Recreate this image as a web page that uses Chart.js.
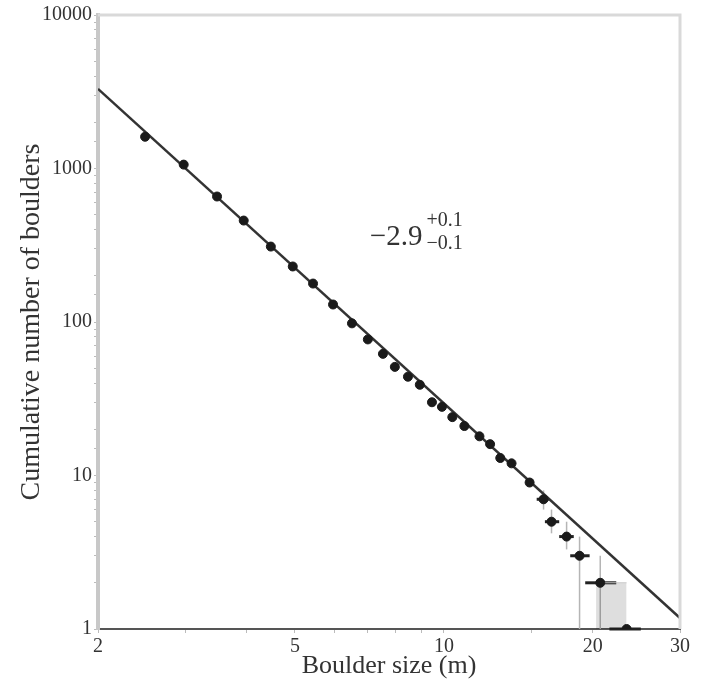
<!DOCTYPE html>
<html>
<head>
<meta charset="utf-8">
<script src="https://cdn.jsdelivr.net/npm/chart.js@4.4.1/dist/chart.umd.min.js"></script>
<style>
  html, body { margin: 0; padding: 0; background: #fff; }
  #wrap { width: 701px; height: 684px; }
</style>
</head>
<body>
<div id="wrap"><canvas id="sizeChart" width="701" height="684"></canvas></div>
<script>
// boulder size (m) vs cumulative number of boulders
const boulderSize = [2.49, 2.98, 3.48, 3.94, 4.47, 4.95, 5.44, 5.97, 6.52, 7.02, 7.53, 7.96, 8.46, 8.94, 9.46, 9.91, 10.4, 11.0, 11.8, 12.4, 13.0, 13.7, 14.9, 15.9, 16.5, 17.7, 18.8, 20.7, 23.4]
const cumulativeCount = [1610, 1060, 657, 458, 310, 230, 178, 130, 98, 77, 62, 51, 44, 39, 30, 28, 24, 21, 18, 16, 13, 12, 9, 7, 5, 4, 3, 2, 1]

// error bars, only for the last points of the series
const tailStart = 23
const sizeLow  = [15.4, 16.0, 17.1, 18.0, 19.3, 21.6]
const sizeHigh = [16.3, 17.1, 18.3, 19.7, 22.3, 25.0]
const countLow  = [6, 4.2, 3.3, 1.0, 1.0, 1]
const countHigh = [8, 6, 5, 4, 3, 1]

// shaded band under the last two points
const bandSize = [20.3, 23.4]
const bandCount = [2, 2]

// power-law fit, slope -2.9
const fitSize = [2, 30]
const fitCount = [3300, 1.18]

const xLabels = [2, 5, 10, 20, 30]
const yLabels = [1, 10, 100, 1000, 10000]

const serif = "'Liberation Serif', 'DejaVu Serif', serif"

function toPoints(xs, ys) {
  return xs.map((x, i) => ({ x: x, y: ys[i] }))
}

const errorBars = {
  id: 'errorBars',
  beforeDatasetsDraw(chart) {
    const ctx = chart.ctx
    const xs = chart.scales.x, ys = chart.scales.y
    ctx.save()
    for (let i = 0; i < sizeLow.length; i++) {
      let k = tailStart + i
      let px = xs.getPixelForValue(boulderSize[k])
      let py = ys.getPixelForValue(cumulativeCount[k])
      // vertical
      ctx.strokeStyle = '#b5b5b5'
      ctx.lineWidth = 1.5
      ctx.beginPath()
      ctx.moveTo(px, ys.getPixelForValue(countLow[i]))
      ctx.lineTo(px, ys.getPixelForValue(countHigh[i]))
      ctx.stroke()
      // horizontal
      ctx.strokeStyle = '#222'
      ctx.lineWidth = 3
      ctx.beginPath()
      ctx.moveTo(xs.getPixelForValue(sizeLow[i]), py)
      ctx.lineTo(xs.getPixelForValue(sizeHigh[i]), py)
      ctx.stroke()
    }
    ctx.restore()
  }
}

const frameAndLabel = {
  id: 'frameAndLabel',
  afterDraw(chart) {
    const ctx = chart.ctx
    const a = chart.chartArea
    ctx.save()
    ctx.strokeStyle = '#d9d9d9'
    ctx.lineWidth = 3
    ctx.beginPath()
    ctx.moveTo(a.left, a.top)
    ctx.lineTo(a.right, a.top)
    ctx.lineTo(a.right, a.bottom)
    ctx.stroke()

    // slope annotation
    let w = a.right - a.left, h = a.bottom - a.top
    let x = a.left + 0.467 * w
    let y = a.top + 0.375 * h
    ctx.fillStyle = '#333'
    ctx.textBaseline = 'alphabetic'
    ctx.textAlign = 'left'
    ctx.font = '29px ' + serif
    ctx.fillText('\u22122.9', x, y)
    let mw = ctx.measureText('\u22122.9').width
    ctx.font = '20px ' + serif
    ctx.fillText('+0.1', x + mw + 4, y - 19)
    ctx.fillText('\u22120.1', x + mw + 4, y + 4)
    ctx.restore()
  }
}

new Chart(document.getElementById('sizeChart'), {
  type: 'scatter',
  data: {
    datasets: [
      {
        label: 'Boulders',
        data: toPoints(boulderSize, cumulativeCount),
        backgroundColor: '#1a1a1a',
        borderColor: '#1a1a1a',
        pointRadius: 4.5,
        order: 0
      },
      {
        label: 'Fit',
        data: toPoints(fitSize, fitCount),
        showLine: true,
        borderColor: '#333',
        borderWidth: 2.5,
        pointRadius: 0,
        order: 1
      },
      {
        label: 'Band',
        data: toPoints(bandSize, bandCount),
        showLine: true,
        borderColor: '#c8c8c8',
        borderWidth: 1,
        backgroundColor: 'rgba(0,0,0,0.13)',
        fill: { value: 1 },
        pointRadius: 0,
        order: 2
      }
    ]
  },
  options: {
    responsive: false,
    animation: false,
    events: [],
    layout: { padding: { top: 15, right: 21, bottom: 0, left: 0 } },
    plugins: {
      legend: { display: false },
      tooltip: { enabled: false }
    },
    scales: {
      x: {
        type: 'logarithmic',
        min: 2,
        max: 30,
        afterFit: s => { s.height = 55 },
        border: { color: '#555', width: 2 },
        grid: { drawOnChartArea: false, drawTicks: true, tickLength: 4, color: '#bbb' },
        ticks: {
          autoSkip: false,
          maxRotation: 0,
          padding: 2,
          color: '#333',
          font: { family: serif, size: 20 },
          callback: v => xLabels.includes(Math.round(v * 100) / 100) ? String(v) : ''
        },
        title: {
          display: true,
          text: 'Boulder size (m)',
          color: '#333',
          font: { family: serif, size: 26 },
          padding: { top: 0, bottom: 2 }
        }
      },
      y: {
        type: 'logarithmic',
        min: 1,
        max: 10000,
        afterFit: s => { s.width = 98 },
        border: { color: '#c8c8c8', width: 4 },
        grid: { drawOnChartArea: false, drawTicks: true, tickLength: 4, color: '#bbb' },
        ticks: {
          autoSkip: false,
          padding: 2,
          color: '#333',
          font: { family: serif, size: 20 },
          callback: v => yLabels.includes(v) ? String(v) : ''
        },
        title: {
          display: true,
          text: 'Cumulative number of boulders',
          color: '#333',
          font: { family: serif, size: 28 },
          padding: { top: 15, bottom: 0 }
        }
      }
    }
  },
  plugins: [errorBars, frameAndLabel]
});
</script>
</body>
</html>
